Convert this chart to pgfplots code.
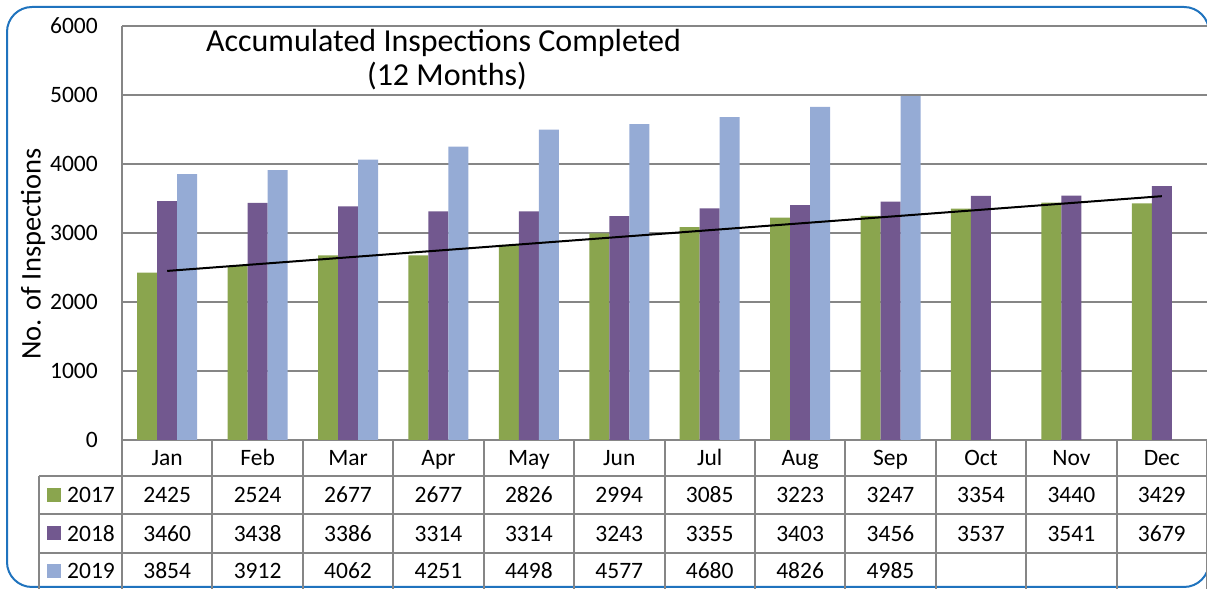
\documentclass[border=0pt]{standalone}
\usepackage{pgfplots}
\usepackage{pgfplotstable}
\pgfplotsset{compat=1.18}
\usepackage{fontspec}
\setmainfont{Carlito}
\definecolor{c17}{RGB}{138,165,78}
\definecolor{c18}{RGB}{114,88,143}
\definecolor{c19}{RGB}{149,171,213}
\definecolor{gridgray}{RGB}{134,134,134}
\definecolor{frameblue}{RGB}{31,115,190}
\pgfplotstableread{
x y17 y18 y19
0 2425 3460 3854
1 2524 3438 3912
2 2677 3386 4062
3 2677 3314 4251
4 2826 3314 4498
5 2994 3243 4577
6 3085 3355 4680
7 3223 3403 4826
8 3247 3456 4985
9 3354 3537 nan
10 3440 3541 nan
11 3429 3679 nan
}\data
\begin{document}
\fontsize{23.5bp}{28bp}\selectfont
\begin{tikzpicture}[x=1bp,y=1bp]
\path[use as bounding box] (0,0) rectangle (1207,589);
\begin{scope}
\clip (0,0) rectangle (1207,589);
\draw[frameblue, line width=2bp, rounded corners=25bp] (7,2) rectangle (1209,582);
\begin{axis}[
  at={(122bp,149bp)}, anchor=south west, scale only axis,
  width=1085bp, height=414bp,
  xmin=-0.5, xmax=11.5, ymin=0, ymax=6000,
  xtick={0,...,11},
  xticklabels={Jan,Feb,Mar,Apr,May,Jun,Jul,Aug,Sep,Oct,Nov,Dec},
  xticklabel style={anchor=center, yshift=-18bp, text height=0.644em, text depth=0pt, inner sep=0pt},
  ytick={0,1000,...,6000},
  yticklabel style={anchor=east, inner sep=0pt, xshift=-24bp},
  major tick length=0pt,
  ymajorgrids, grid style={gridgray, line width=2bp},
  axis x line*=bottom, axis y line*=left,
  axis line style={gridgray, line width=2bp},
  /pgf/number format/assume math mode=true,
  /pgf/number format/1000 sep={},
  scaled y ticks=false,
  ticklabel style={font=\fontsize{23.5bp}{28bp}\selectfont},
]
\addplot[ybar, bar width=20bp, bar shift=-20bp, fill=c17, draw=none] table[x=x,y=y17]{\data};
\addplot[ybar, bar width=20bp, bar shift=0bp, fill=c18, draw=none] table[x=x,y=y18]{\data};
\addplot[ybar, bar width=20bp, bar shift=20bp, fill=c19, draw=none] table[x=x,y=y19]{\data};
\addplot[sharp plot, black, line width=2bp, mark=none] coordinates {(0,2450.2) (11,3533.3)};
\end{axis}
% data table
\foreach \k in {0,...,12} {
  \draw[gridgray, line width=2bp] ({122+\k*1085/12},149) -- ({122+\k*1085/12},-5);
}
\draw[gridgray, line width=2bp] (39,113) -- (39,-5);
\foreach \yy in {113,75,36} {
  \draw[gridgray, line width=2bp] (39,\yy) -- (1210,\yy);
}
\tikzset{cell/.style={anchor=center, inner sep=0pt, text height=0.644em, text depth=0pt}}
\foreach \v [count=\i from 0] in {2425,2524,2677,2677,2826,2994,3085,3223,3247,3354,3440,3429}
  \node[cell] at ({122+(\i+0.5)*1085/12},94) {\v};
\foreach \v [count=\i from 0] in {3460,3438,3386,3314,3314,3243,3355,3403,3456,3537,3541,3679}
  \node[cell] at ({122+(\i+0.5)*1085/12},55.5) {\v};
\foreach \v [count=\i from 0] in {3854,3912,4062,4251,4498,4577,4680,4826,4985}
  \node[cell] at ({122+(\i+0.5)*1085/12},18) {\v};
% legend keys
\fill[c17] (47,87) rectangle (61,101);
\node[cell, anchor=west] at (67,94) {2017};
\fill[c18] (47,48.5) rectangle (61,62.5);
\node[cell, anchor=west] at (67,55.5) {2018};
\fill[c19] (47,11) rectangle (61,25);
\node[cell, anchor=west] at (67,18) {2019};
% labels
\node[rotate=90, cell, font=\fontsize{28.5bp}{32bp}\selectfont] at (33,335) {No. of Inspections};
\node[cell, font=\fontsize{32bp}{36bp}\selectfont] at (443.5,545) {Accumulated Inspections Completed};
\node[cell, font=\fontsize{32bp}{36bp}\selectfont] at (447,511) {(12 Months)};
\end{scope}
\end{tikzpicture}
\end{document}
